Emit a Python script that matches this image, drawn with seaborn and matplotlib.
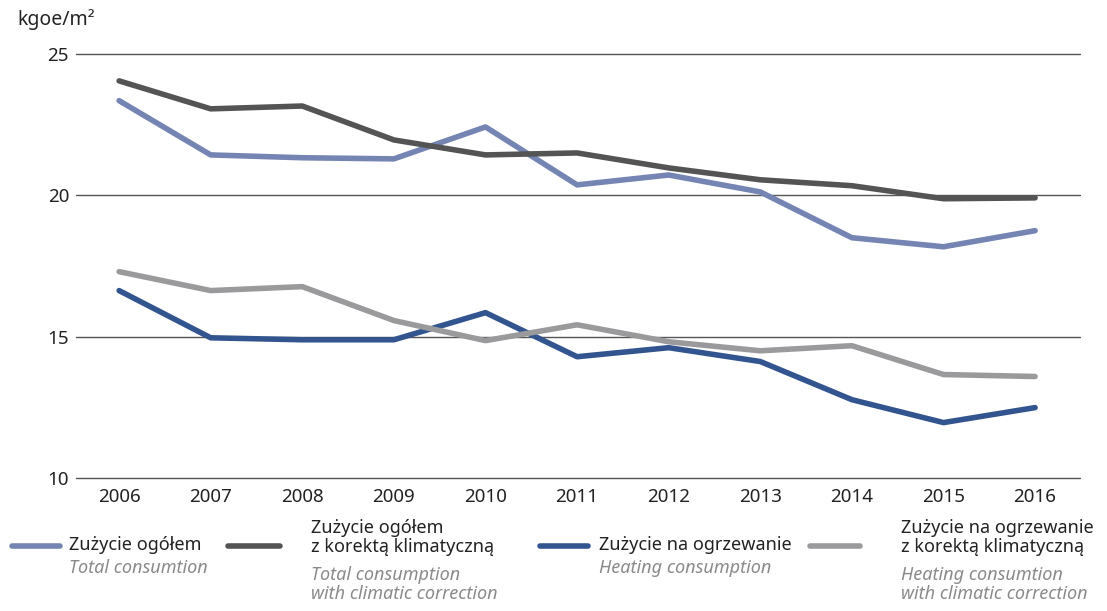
import numpy as np
import pandas as pd
import matplotlib
matplotlib.use("Agg")
import matplotlib.pyplot as plt
from matplotlib.lines import Line2D
import seaborn as sns

# --- data ---
years = [2006, 2007, 2008, 2009, 2010, 2011, 2012, 2013, 2014, 2015, 2016]
total = [23.35, 21.43, 21.33, 21.29, 22.42, 20.37, 20.72, 20.12, 18.50, 18.18, 18.75]
total_climatic = [24.05, 23.06, 23.16, 21.96, 21.43, 21.50, 20.97, 20.55, 20.34, 19.88, 19.91]
heating = [16.63, 14.96, 14.89, 14.89, 15.85, 14.29, 14.61, 14.12, 12.77, 11.96, 12.49]
heating_climatic = [17.30, 16.63, 16.77, 15.57, 14.86, 15.42, 14.82, 14.50, 14.68, 13.66, 13.59]

series_names = ["total", "total_climatic", "heating", "heating_climatic"]
series_pl = ["Zużycie ogółem", "Zużycie ogółem\nz korektą klimatyczną",
             "Zużycie na ogrzewanie", "Zużycie na ogrzewanie\nz korektą klimatyczną"]
series_en = ["Total consumtion", "Total consumption\nwith climatic correction",
             "Heating consumption", "Heating consumtion\nwith climatic correction"]
colors = ["#7484b3", "#545454", "#33558f", "#9a9a9c"]
y_ticks = [10, 15, 20, 25]

df = pd.DataFrame({"year": years, "total": total, "total_climatic": total_climatic,
                   "heating": heating, "heating_climatic": heating_climatic})
long_df = df.melt(id_vars="year", var_name="series", value_name="value")

sns.set_style("white")
plt.rcParams["font.family"] = ["Noto Sans", "DejaVu Sans"]

fig = plt.figure(figsize=(11.07, 6.11), dpi=100)
ax = fig.add_axes([0.0687, 0.2177, 0.9069, 0.6939])

# gridlines under the data
for yv in y_ticks:
    ax.axhline(yv, color="#555555", lw=1.0, zorder=0, clip_on=False)

sns.lineplot(data=long_df, x="year", y="value", hue="series", hue_order=series_names,
             palette=dict(zip(series_names, colors)), lw=4, legend=False, ax=ax,
             solid_capstyle="round", zorder=3)

ax.set_xlim(2005.53, 2016.49)
ax.set_ylim(10, 25)
ax.set_xticks(years)
ax.set_yticks(y_ticks)
ax.tick_params(axis="both", length=0, labelsize=13.5, colors="#222222")
ax.tick_params(axis="x", pad=7)
ax.tick_params(axis="y", pad=5)
ax.set_xlabel("")
ax.set_ylabel("")
for s in ax.spines.values():
    s.set_visible(False)

fig.text(17 / 1107, 1 - 20 / 611, "kgoe/m²", fontsize=14, color="#222222",
         va="center", ha="left")

# --- custom legend (two-language entries) ---
W, H = 1107, 611
leg_lines = [(12, 60), (228, 280), (540, 588), (810, 860)]
leg_text_x = [69, 311, 599, 901]
line_y = 546
for i in range(4):
    x0, x1 = leg_lines[i]
    fig.add_artist(Line2D([x0 / W, x1 / W], [1 - line_y / H, 1 - line_y / H],
                          color=colors[i], lw=4, solid_capstyle="round",
                          transform=fig.transFigure))
    two_line = "\n" in series_pl[i]
    top = 519 if two_line else 536
    fig.text(leg_text_x[i] / W, 1 - top / H, series_pl[i], fontsize=13,
             color="#222222", va="top", ha="left", linespacing=1.08)
    en_top = top + (47 if two_line else 23)
    fig.text(leg_text_x[i] / W, 1 - en_top / H, series_en[i], fontsize=13,
             color="#8a8a8a", style="italic", va="top", ha="left", linespacing=1.08)

fig.savefig("out.png", dpi=100)
